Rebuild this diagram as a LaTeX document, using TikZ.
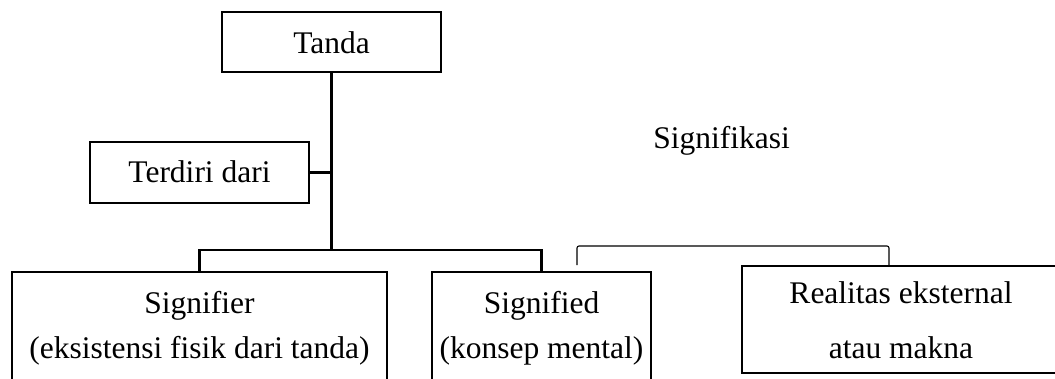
\documentclass[tikz,border=0pt]{standalone}
\usepackage{fontspec}
\setmainfont{Liberation Serif}
\begin{document}
\begin{tikzpicture}[x=1pt,y=-1pt,
  box/.style={draw=black, line width=2.8pt, inner sep=0pt, outer sep=0pt, rectangle},
  txt/.style={inner sep=0pt, font=\fontsize{31.5}{38}\selectfont},
  link/.style={draw=black, line width=2.8pt},
  bracket/.style={draw=black, line width=1.1pt, rounded corners=2pt}]
\useasboundingbox (0,0) rectangle (1055,378);
\clip (0,0) rectangle (1055,378);
% boxes
\node[box, minimum width=219pt, minimum height=60pt] (tanda) at (331.5,42) {};
\node[txt, anchor=base] (tandaT) at (331.5,53) {Tanda};
\node[box, minimum width=219pt, minimum height=61pt] (terdiri) at (199.5,172.5) {};
\node[txt, anchor=base] (terdiriT) at (199.5,182.5) {Terdiri dari};
\node[box, minimum width=375pt, minimum height=130pt] (signifier) at (199.5,337) {};
\node[txt, anchor=base] (sr1) at (199.5,313) {Signifier};
\node[txt, anchor=base] (sr2) at (199.5,358) {(eksistensi fisik dari tanda)};
\node[box, minimum width=219pt, minimum height=130pt] (signified) at (541.5,337) {};
\node[txt, anchor=base] (sd1) at (541.5,313) {Signified};
\node[txt, anchor=base] (sd2) at (541.5,358) {(konsep mental)};
\node[box, minimum width=340pt, minimum height=107pt] (realitas) at (912,319.5) {};
\node[txt, anchor=base] (re1) at (901,303) {Realitas eksternal};
\node[txt, anchor=base] (re2) at (901,358) {atau makna};
\node[txt, anchor=base] (signifikasi) at (721.5,148) {Signifikasi};
% connectors
\coordinate (hub) at (331.5,250);
\draw[link] (tanda.south) -- (hub);
\draw[link] (terdiri.east) -- (terdiri.east -| hub);
\draw[link] (signifier.north) |- (hub) -| (signified.north);
\coordinate (bl) at (577,265);
\coordinate (br) at (889,266);
\draw[bracket] (bl) -- ++(0,-19) -| (br);
\end{tikzpicture}
\end{document}
